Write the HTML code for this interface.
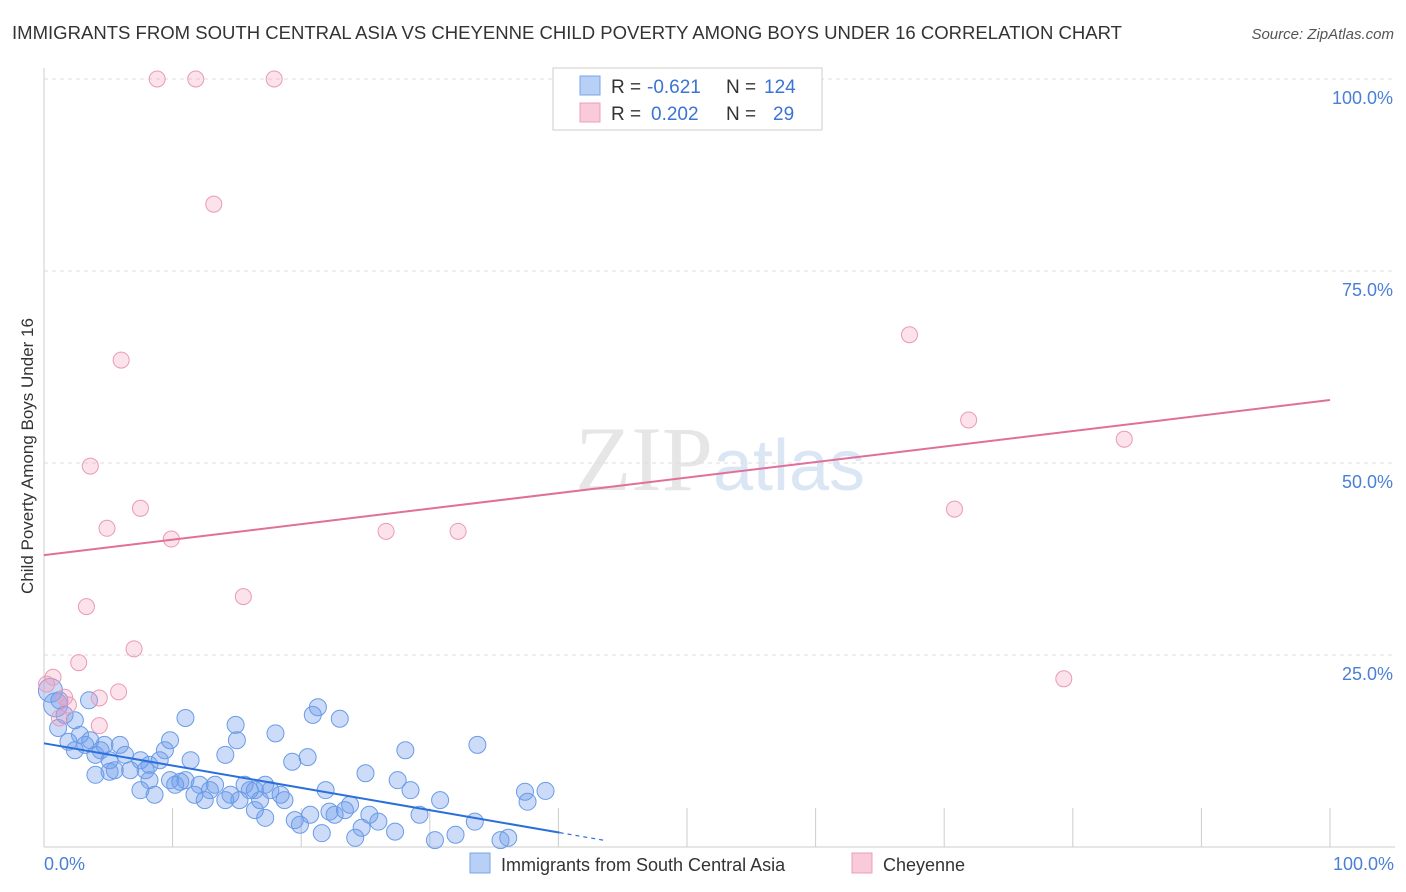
<!DOCTYPE html>
<html><head><meta charset="utf-8"><style>
body{margin:0;background:#fff;font-family:"Liberation Sans",sans-serif;overflow:hidden}
svg{display:block}
</style></head><body>
<svg id="chart" width="1406" height="892" viewBox="0 0 1406 892" xmlns="http://www.w3.org/2000/svg">
<text x="12" y="39" font-size="18" fill="#333" textLength="1110" lengthAdjust="spacingAndGlyphs">IMMIGRANTS FROM SOUTH CENTRAL ASIA VS CHEYENNE CHILD POVERTY AMONG BOYS UNDER 16 CORRELATION CHART</text>
<text x="1394" y="39" font-size="15" fill="#555" text-anchor="end" font-style="italic">Source: ZipAtlas.com</text>
<text x="720" y="490" font-size="92" text-anchor="middle" fill="#e6e6e6" font-family="Liberation Serif,serif">ZIP<tspan fill="#dbe6f5" font-family="Liberation Sans,sans-serif" font-size="72">atlas</tspan></text>
<text transform="translate(33,456) rotate(-90)" font-size="17" fill="#333" text-anchor="middle">Child Poverty Among Boys Under 16</text>
<g id="grid"></g><g id="pts"></g><g id="lines"></g>
<g>
<rect x="553" y="68" width="269" height="62" fill="#fff" stroke="#ccc"/>
<rect x="580" y="76" width="20" height="19" fill="#b8d0f5" stroke="#7aa5e8"/>
<rect x="580" y="103" width="20" height="19" fill="#f9cad9" stroke="#ec9fb9"/>
<text x="611" y="93" font-size="19" fill="#333">R =</text>
<text x="647" y="93" font-size="19" fill="#3a74d4">-0.621</text>
<text x="726" y="93" font-size="19" fill="#333">N =</text>
<text x="764" y="93" font-size="19" fill="#3a74d4">124</text>
<text x="611" y="120" font-size="19" fill="#333">R =</text>
<text x="651" y="120" font-size="19" fill="#3a74d4">0.202</text>
<text x="726" y="120" font-size="19" fill="#333">N =</text>
<text x="773" y="120" font-size="19" fill="#3a74d4">29</text>
</g>
<g>
<rect x="470" y="853" width="20" height="20" fill="#b8d0f5" stroke="#7aa5e8"/>
<text x="501" y="871" font-size="18" fill="#333">Immigrants from South Central Asia</text>
<rect x="852" y="853" width="20" height="20" fill="#f9cad9" stroke="#ec9fb9"/>
<text x="883" y="871" font-size="18" fill="#333">Cheyenne</text>
</g>
</svg>
<script>
const blueX=[0.5,0.9,1.2,1.6,2.4,3.5,1.1,1.9,2.4,3.2,4.0,4.4,5.1,5.9,6.3,6.7,7.5,8.2,9.0,9.4,9.8,11.0,11.4,12.1,12.9,14.1,14.9,15.0,15.6,16.4,17.2,18.0,19.3,20.5,20.9,21.3,23.0,25.0,28.1,27.5,30.8,33.7,37.4,39.0,37.6,4.0,5.1,7.5,8.6,9.8,10.6,11.7,12.5,13.3,14.1,15.2,16.4,17.2,18.4,19.5,19.9,20.7,21.6,22.2,23.4,23.8,24.2,24.7,26.0,27.3,29.2,30.4,32.0,33.5,35.5,36.1,8.2,10.2,14.5,16.8,18.7,21.9,2.8,3.6,4.7,5.5,7.9,11.0,16.0,17.6,22.6,25.3,28.5];
const blueY=[20.4,18.5,19.1,17.2,16.5,19.1,15.5,13.7,12.6,13.3,12.0,12.6,11.3,13.3,12.0,10.0,11.3,10.7,11.3,12.6,13.9,16.8,11.3,8.1,7.4,12.0,15.9,13.9,8.1,7.4,8.1,14.8,11.1,11.7,17.2,18.2,16.7,9.6,12.6,8.7,6.1,13.3,7.2,7.3,5.9,9.4,9.8,7.4,6.8,8.7,8.5,6.8,6.1,8.1,6.1,6.1,4.8,3.8,6.8,3.5,2.9,4.2,1.8,4.6,4.8,5.5,1.2,2.5,3.3,2.0,4.2,0.9,1.6,3.3,0.9,1.2,8.7,8.1,6.8,6.1,6.1,7.4,14.6,13.9,13.3,10.0,10.0,8.7,7.4,7.4,4.2,4.2,7.4];
const pinkX=[8.8,11.8,17.9,13.2,6.0,3.6,7.5,4.9,9.9,15.5,3.3,7.0,2.7,0.7,5.8,4.3,1.6,4.3,26.6,32.2,67.3,71.9,84.0,70.8,79.3,0.2,1.2,1.9];
const pinkY=[100,100,100,83.7,63.4,49.6,44.1,41.5,40.1,32.6,31.3,25.8,24.0,22.1,20.2,19.4,19.5,15.8,41.1,41.1,66.7,55.6,53.1,44.0,21.9,21.2,16.8,18.5];
const yTicks=[25,50,75,100];
const yTickLabels=["25.0%","50.0%","75.0%","100.0%"];
const xTicks=[0,10,20,30,40,50,60,70,80,90,100];
const blueTrend=[13.5,-0.29];
const pinkTrend=[38.0,0.202];
const X=v=>44+v*12.86, Y=v=>847-v*7.68;
const NS="http://www.w3.org/2000/svg";
function mk(p,t,a){const e=document.createElementNS(NS,t);for(const k in a)e.setAttribute(k,a[k]);p.appendChild(e);return e;}
const g=document.getElementById('grid');
let ax=mk(g,'line',{x1:44,y1:68,x2:44,y2:847,stroke:'#ccc'});


let xa=mk(g,'line',{x1:44,y1:847,x2:1395,y2:847,stroke:'#ccc'});


yTicks.forEach((t,i)=>{
 const l=mk(g,'line',{x1:44,y1:Y(t),x2:1395,y2:Y(t),stroke:'#ddd','stroke-dasharray':'4,4'});
 
 
 const tx=mk(g,'text',{x:1393,y:Y(t)+25,'font-size':18,fill:'#4a7fd6','text-anchor':'end'});
 tx.textContent=yTickLabels[i];
 
 
});
xTicks.forEach(t=>{
 if(t===0)return;
 const l=mk(g,'line',{x1:X(t),y1:808,x2:X(t),y2:847,stroke:'#ccc'});
 
 
});
[[0,"0.0%",'start',44],[100,"100.0%",'end',1394]].forEach(a=>{
 const tx=mk(g,'text',{x:a[3],y:870,'font-size':18,fill:'#4a7fd6','text-anchor':a[2]});
 tx.textContent=a[1];
 
 
});
const pg=document.getElementById('pts');
blueX.forEach((x,i)=>{
 const c=mk(pg,'circle',{cx:X(x),cy:Y(blueY[i]),r:i<2?12:8.5,fill:'rgba(110,155,235,0.35)',stroke:'#6a9be8','stroke-width':1});
 
 
});
pinkX.forEach((x,i)=>{
 const c=mk(pg,'circle',{cx:X(x),cy:Y(pinkY[i]),r:8,fill:'rgba(244,160,190,0.3)',stroke:'#ea9ab7','stroke-width':1});
 
 
});
const lg=document.getElementById('lines');
let b=mk(lg,'line',{x1:X(0),y1:Y(blueTrend[0]),x2:X(40.1),y2:Y(blueTrend[0]+blueTrend[1]*40.1),stroke:'#2a6fdb','stroke-width':2});


let bd=mk(lg,'line',{x1:X(40.1),y1:Y(blueTrend[0]+blueTrend[1]*40.1),x2:X(43.5),y2:Y(blueTrend[0]+blueTrend[1]*43.5),stroke:'#2a6fdb','stroke-width':1.2,'stroke-dasharray':'4,4'});


let p=mk(lg,'line',{x1:X(0),y1:Y(pinkTrend[0]),x2:X(100),y2:Y(pinkTrend[0]+pinkTrend[1]*100),stroke:'#e0709a','stroke-width':2});


</script>
</body></html>
